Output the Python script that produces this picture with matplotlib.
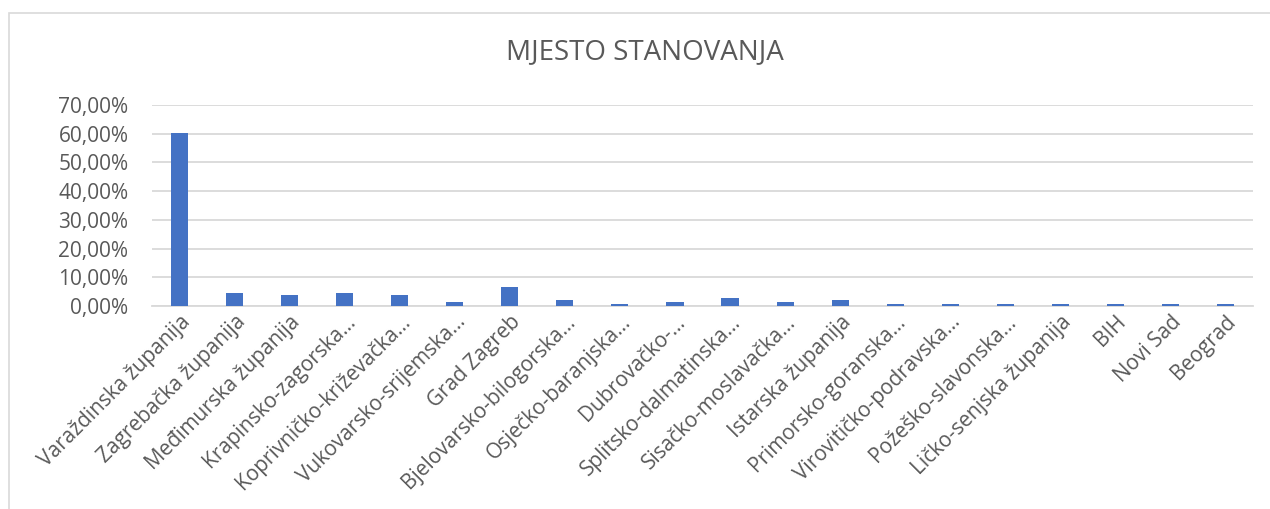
import matplotlib
matplotlib.use("Agg")
import matplotlib.pyplot as plt
from matplotlib.ticker import FuncFormatter
from matplotlib.patches import Rectangle

categories = [
    "Varaždinska županija", "Zagrebačka županija", "Međimurska županija",
    "Krapinsko-zagorska...", "Koprivničko-križevačka...", "Vukovarsko-srijemska...",
    "Grad Zagreb", "Bjelovarsko-bilogorska...", "Osječko-baranjska...",
    "Dubrovačko-...", "Splitsko-dalmatinska...", "Sisačko-moslavačka...",
    "Istarska županija", "Primorsko-goranska...", "Virovitičko-podravska...",
    "Požeško-slavonska...", "Ličko-senjska županija", "BIH", "Novi Sad", "Beograd",
]
values = [60.26, 4.64, 3.97, 4.64, 3.97, 1.32, 6.62, 1.99, 0.66, 1.32,
          2.65, 1.32, 1.99, 0.66, 0.66, 0.66, 0.66, 0.66, 0.66, 0.66]
title = "MJESTO STANOVANJA"

TEXT = "#595959"
BAR = "#4472C4"
GRID = "#D9D9D9"
FONT = ["Open Sans", "DejaVu Sans"]

W, H = 1270, 509
fig = plt.figure(figsize=(W / 100, H / 100), dpi=100)
fig.patch.set_facecolor("white")

# chart border (only left/top visible in reference)
fig.add_artist(Rectangle((8.5 / W, -0.1), 1.2, 1.1 - 12.5 / H,
                         transform=fig.transFigure, fill=False,
                         edgecolor=GRID, linewidth=1.2))

left, right = 152 / W, 1253 / W
bottom, top = (H - 306) / H, (H - 105) / H
ax = fig.add_axes([left, bottom, right - left, top - bottom])

x = list(range(len(categories)))
ax.bar(x, values, width=0.31, color=BAR, zorder=3)

ax.set_xlim(-0.5, len(categories) - 0.5)
ax.set_ylim(0, 70)
ax.set_yticks(range(0, 71, 10))
ax.yaxis.set_major_formatter(FuncFormatter(lambda v, p: f"{v:.2f}%".replace(".", ",")))
ax.grid(axis="y", color=GRID, linewidth=1.3, zorder=0)
for s in ["top", "right", "left"]:
    ax.spines[s].set_visible(False)
ax.spines["bottom"].set_color(GRID)
ax.spines["bottom"].set_linewidth(1.3)
ax.tick_params(axis="y", length=0, pad=17, labelsize=15, labelcolor=TEXT)
ax.tick_params(axis="x", length=0, pad=4, labelsize=15, labelcolor=TEXT)
for lab in ax.get_yticklabels():
    lab.set_family(FONT)
ax.set_xticks(x)
ax.set_xticklabels(categories, rotation=45, ha="right", rotation_mode="anchor",
                   family=FONT)

fig.text(645 / W, 1 - 52 / H, title, ha="center", va="center",
         fontsize=20, color=TEXT, family=FONT)

fig.savefig("out.png", dpi=100, facecolor="white")
